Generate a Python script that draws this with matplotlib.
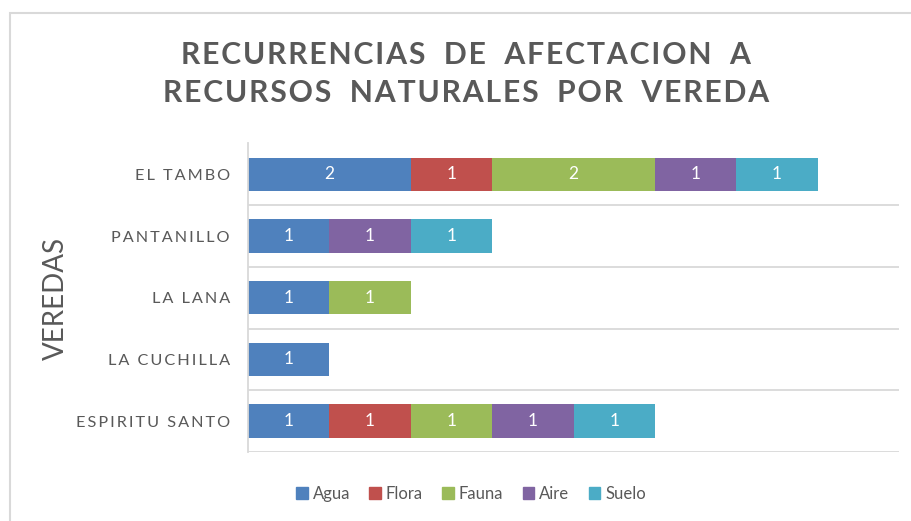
import matplotlib
matplotlib.use('Agg')
import matplotlib.pyplot as plt
from matplotlib.patches import Patch, Rectangle
import numpy as np

# data
veredas = ['ESPIRITU SANTO', 'LA CUCHILLA', 'LA LANA', 'PANTANILLO', 'EL TAMBO']
recursos = ['Agua', 'Flora', 'Fauna', 'Aire', 'Suelo']
agua = [1, 1, 1, 1, 2]
flora = [1, 0, 0, 0, 1]
fauna = [1, 0, 1, 0, 2]
aire = [1, 0, 0, 1, 1]
suelo = [1, 0, 0, 1, 1]
titulo = 'RECURRENCIAS DE AFECTACION A\nRECURSOS NATURALES POR VEREDA'
eje_y = 'VEREDAS'

colores = ['#4F81BD', '#C0504D', '#9BBB59', '#8064A2', '#4BACC6']
gris = '#595959'
fam = ['Lato', 'DejaVu Sans']


def spaced(s, sep, wsep):
    # fake letter spacing
    lines = []
    for line in s.split('\n'):
        lines.append(wsep.join(sep.join(w) for w in line.split()))
    return '\n'.join(lines)


fig = plt.figure(figsize=(9.11, 5.21), dpi=100)
ax = fig.add_axes([248 / 911, 1 - 452 / 521, 651 / 911, 308.5 / 521])

y = np.arange(len(veredas))
left = np.zeros(len(veredas))
for serie, nombre, c in zip([agua, flora, fauna, aire, suelo], recursos, colores):
    bars = ax.barh(y, serie, left=left, height=0.54, color=c, linewidth=0)
    ax.bar_label(bars, labels=[str(v) if v else '' for v in serie],
                 label_type='center', color='white', fontsize=12.5, family=fam)
    left += np.array(serie)

ax.set_xlim(0, 8)
ax.set_ylim(-0.5, len(veredas) - 0.5)
for b in np.arange(len(veredas) + 1) - 0.5:
    ax.axhline(b, color='#D9D9D9', lw=1.3, zorder=0)

ax.set_xticks([])
ax.set_yticks(y)
ax.set_yticklabels([spaced(v, '\u2009', '\u2009 \u2009') for v in veredas], family=fam,
                   fontsize=11.7, color=gris)
ax.tick_params(axis='y', length=0, pad=13)
for s in ['top', 'right', 'bottom']:
    ax.spines[s].set_visible(False)
ax.spines['left'].set_color('#D9D9D9')
ax.spines['left'].set_linewidth(1.3)

fig.text(0.512, 1 - 74 / 521, spaced(titulo, '\u200a', '\u200a  \u200a'), ha='center', va='center',
         fontsize=21.7, weight='bold', color=gris, family=fam, linespacing=1.47)
fig.text(56 / 911, 1 - 298 / 521, eje_y, rotation=90, ha='center', va='center',
         fontsize=20, color=gris, family=fam)

handles = [Patch(color=c, label=n) for c, n in zip(colores, recursos)]
leg = fig.legend(handles=handles, loc='center', ncol=5, frameon=False,
                 bbox_to_anchor=(0.517, 0.052), handlelength=0.7, handleheight=0.7,
                 handletextpad=0.3, columnspacing=1.15,
                 prop={'family': fam, 'size': 12})
for t in leg.get_texts():
    t.set_color(gris)

# outer chart border (only top and left visible)
fig.add_artist(Rectangle((9.5 / 911, -0.2), 1.2, 1.2 - 13 / 521, transform=fig.transFigure,
                         fill=False, edgecolor='#D9D9D9', lw=1.5, clip_on=False))

fig.savefig('out.png', dpi=100)
